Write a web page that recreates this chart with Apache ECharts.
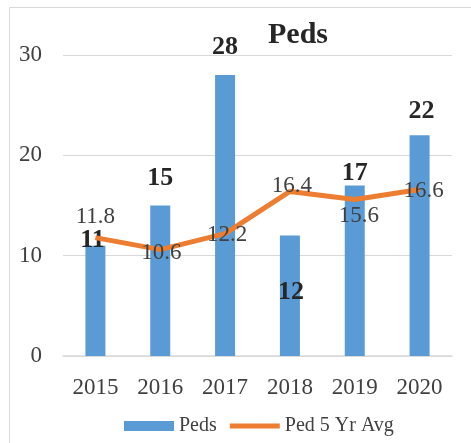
<!DOCTYPE html>
<html><head><meta charset="utf-8">
<script src="https://cdn.jsdelivr.net/npm/echarts@6/dist/echarts.min.js"></script>
<style>html,body{margin:0;padding:0;background:#fff}#c{width:471px;height:443px}</style>
</head><body><div id="c"></div>
<script>
const categories = ['2015','2016','2017','2018','2019','2020'];
const peds = [11, 15, 28, 12, 17, 22];
const avg5 = [11.8, 10.6, 12.2, 16.4, 15.6, 16.6];
const yTicks = [0, 10, 20, 30];

const F = '"Liberation Serif","Times New Roman",serif';
// label offsets (relative to default anchor)
const barLabelOffsets = [[-3,8],[0,-14],[0,-15],[1,70],[0,1],[2,-11]];
const lineLabelOffsets = [[0,-21],[1,3],[2,1],[2,-6],[4,16],[4,2]];

const chart = echarts.init(document.getElementById('c'));
chart.setOption({
  animation:false,
  graphic:[{type:'rect',shape:{x:9.5,y:7.5,width:500,height:500},style:{fill:'none',stroke:'#d9d9d9',lineWidth:1},silent:true,z:-1}],
  title:{text:'Peds',left:263,top:15,textStyle:{fontFamily:F,fontSize:30,fontWeight:'bold',color:'#262626'}},
  grid:{left:63,right:19,top:55,bottom:87},
  legend:{top:411,left:119,itemWidth:50,itemHeight:10,itemGap:13,
    textStyle:{fontFamily:F,fontSize:20,color:'#404040'},
    data:[{name:'Peds',icon:'rect'},{name:'Ped 5 Yr Avg',icon:'path://M0,0H50V5H0Z'}]},
  xAxis:{type:'category',data:categories,
    axisLine:{lineStyle:{color:'#d9d9d9',width:1.5}},axisTick:{show:false},
    axisLabel:{fontFamily:F,fontSize:23,color:'#404040',margin:20}},
  yAxis:{type:'value',min:yTicks[0],max:yTicks[yTicks.length-1],interval:10,
    axisLine:{show:false},axisTick:{show:false},
    splitLine:{lineStyle:{color:'#d9d9d9',width:1}},
    axisLabel:{fontFamily:F,fontSize:23,color:'#404040',margin:21}},
  series:[
    {name:'Peds',type:'bar',barWidth:20,itemStyle:{color:'#5B9BD5'},
     data:peds.map((v,i)=>({value:v,label:{show:true,position:'top',distance:0,offset:barLabelOffsets[i],
       fontFamily:F,fontSize:26,fontWeight:'bold',color:'#262626'}}))},
    {name:'Ped 5 Yr Avg',type:'line',symbol:'circle',symbolSize:0,showSymbol:true,z:3,
     lineStyle:{color:'#ED7D31',width:5},itemStyle:{color:'#ED7D31'},
     data:avg5.map((v,i)=>({value:v,label:{show:true,position:'inside',offset:lineLabelOffsets[i],
       fontFamily:F,fontSize:23,color:'#404040'}}))}
  ]
});
</script></body></html>
